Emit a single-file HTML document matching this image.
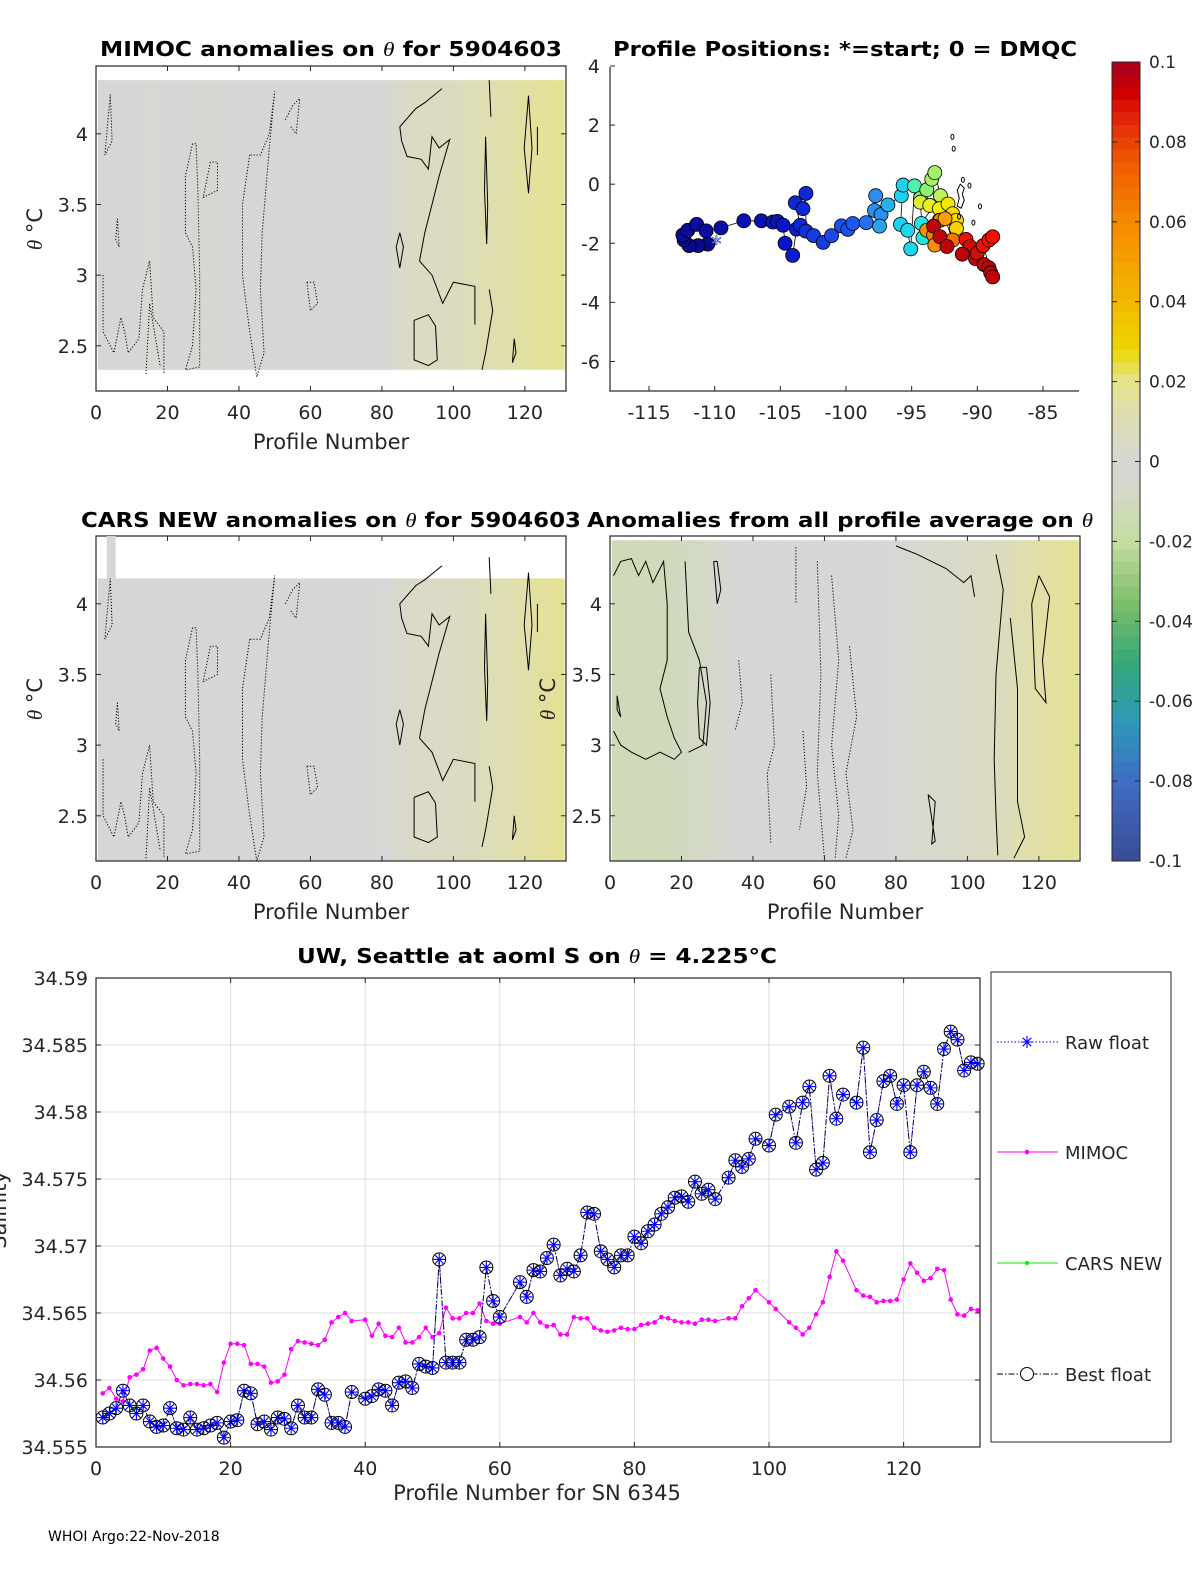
<!DOCTYPE html>
<html><head><meta charset="utf-8"><style>
html,body{margin:0;padding:0;background:#fff;}
svg text{font-family:"DejaVu Sans","Liberation Sans",sans-serif;fill:#262626;}
.ttl{font-weight:bold;fill:#000;}
</style></head><body>
<svg id="fig" width="1200" height="1575" viewBox="0 0 1200 1575" xmlns="http://www.w3.org/2000/svg">
<g id="gTL"></g>
<g id="gTR"></g>
<g id="gML"></g>
<g id="gMR"></g>
<g id="gCB"></g>
<g id="gB"></g>
<text x="48" y="1541" font-size="14" fill="#000" style="fill:#000">WHOI Argo:22-Nov-2018</text>
</svg>
<script>
// ---------- bottom chart data ----------
const profileNums = [1,2,3,4,5,6,7,8,9,10,11,12,13,14,15,16,17,18,19,20,21,22,23,24,25,26,27,28,29,30,31,32,33,34,35,36,37,38,40,41,42,43,44,45,46,47,48,49,50,51,52,53,54,55,56,57,58,59,60,63,64,65,66,67,68,69,70,71,72,73,74,75,76,77,78,79,80,81,82,83,84,85,86,87,88,89,90,91,92,94,95,96,97,98,100,101,103,104,105,106,107,108,109,110,111,113,114,115,116,117,118,119,120,121,122,123,124,125,126,127,128,129,130,131];
const bestFloat = [34.5572,34.5575,34.5579,34.5592,34.5581,34.5575,34.5581,34.5569,34.5565,34.5566,34.5579,34.5564,34.5563,34.5572,34.5563,34.5564,34.5566,34.5568,34.5557,34.5569,34.5570,34.5592,34.5590,34.5567,34.5569,34.5563,34.5572,34.5571,34.5564,34.5581,34.5572,34.5572,34.5593,34.5589,34.5568,34.5568,34.5565,34.5591,34.5586,34.5588,34.5593,34.5592,34.5581,34.5598,34.5599,34.5594,34.5612,34.5610,34.5609,34.5690,34.5613,34.5613,34.5613,34.5630,34.5630,34.5632,34.5684,34.5659,34.5647,34.5673,34.5662,34.5682,34.5681,34.5691,34.5701,34.5678,34.5683,34.5681,34.5693,34.5725,34.5724,34.5696,34.5690,34.5684,34.5693,34.5693,34.5707,34.5702,34.5711,34.5716,34.5724,34.5729,34.5736,34.5737,34.5733,34.5748,34.5739,34.5742,34.5735,34.5751,34.5764,34.5759,34.5765,34.5780,34.5775,34.5798,34.5804,34.5777,34.5807,34.5819,34.5757,34.5762,34.5827,34.5795,34.5813,34.5807,34.5848,34.5770,34.5794,34.5823,34.5827,34.5806,34.5820,34.5770,34.5820,34.5830,34.5818,34.5806,34.5847,34.5860,34.5854,34.5831,34.5837,34.5836];
const mimoc = [34.5590,34.5594,34.5586,34.5584,34.5602,34.5604,34.5608,34.5622,34.5624,34.5616,34.5610,34.5600,34.5596,34.5597,34.5597,34.5596,34.5597,34.5591,34.5613,34.5627,34.5627,34.5626,34.5612,34.5612,34.5610,34.5598,34.5599,34.5604,34.5623,34.5629,34.5628,34.5627,34.5626,34.5630,34.5643,34.5647,34.5650,34.5644,34.5645,34.5633,34.5642,34.5633,34.5632,34.5639,34.5628,34.5628,34.5632,34.5639,34.5632,34.5635,34.5654,34.5646,34.5646,34.5650,34.5650,34.5657,34.5644,34.5642,34.5642,34.5647,34.5643,34.5650,34.5643,34.5640,34.5641,34.5634,34.5634,34.5647,34.5646,34.5646,34.5639,34.5637,34.5636,34.5637,34.5639,34.5638,34.5638,34.5641,34.5642,34.5643,34.5647,34.5646,34.5644,34.5643,34.5643,34.5642,34.5645,34.5645,34.5644,34.5646,34.5646,34.5655,34.5661,34.5667,34.5658,34.5653,34.5643,34.5639,34.5634,34.5639,34.5649,34.5658,34.5677,34.5696,34.5689,34.5667,34.5663,34.5662,34.5658,34.5659,34.5659,34.5660,34.5675,34.5687,34.5680,34.5674,34.5676,34.5683,34.5682,34.5660,34.5649,34.5648,34.5653,34.5652];
const carsProfiles = [4,5,6];
const carsNew = [34.5581,34.5581,34.5578];
const xTicksB = [0,20,40,60,80,100,120];
const yTicksB = [34.555,34.56,34.565,34.57,34.575,34.58,34.585,34.59];
const yTickLabelsB = ["34.555","34.56","34.565","34.57","34.575","34.58","34.585","34.59"];

// ---------- heatmap column anomalies (every 5 profiles, 0..130) ----------
const anomMimoc = [0,0,0,0.001,0,0,-0.002,-0.002,0,0,0,0,0,0,0,0,0,0.004,0.006,0.006,0.007,0.009,0.011,0.013,0.015,0.017,0.019];
const anomCars  = [0,0,0,0,0,0,-0.001,0,0,0,0,0,0,0,0,0,0.001,0.003,0.005,0.005,0.006,0.007,0.009,0.011,0.013,0.016,0.018];
const anomAvg   = [-0.011,-0.012,-0.012,-0.011,-0.009,-0.007,-0.004,-0.002,0,0,0,0,0,0,0,0,0.001,0.002,0.003,0.004,0.005,0.006,0.008,0.011,0.014,0.016,0.018];
const thetaTicks = [2.5,3,3.5,4];
const profTicks = [0,20,40,60,80,100,120];

// ---------- contours (profile, theta) ----------
const solidTop = [
 [[96.8,4.32],[92,4.22],[89.5,4.18],[85,4.05],[85.5,3.95],[87,3.84],[91,3.82],[93,3.75],[94,3.98],[96,3.9],[99,3.96],[96,3.7],[94,3.5],[92,3.3],[90.5,3.1],[94,3.0],[97,2.8],[100,2.95],[106,2.92],[106,2.65]],
 [[109,3.98],[109.6,3.5],[109.3,3.22],[108.7,3.6],[109,3.98]],
 [[121,4.27],[122,3.9],[121,3.58],[119.8,3.9],[121,4.27]],
 [[89,2.68],[93,2.72],[95,2.64],[95.5,2.4],[93,2.36],[89,2.4],[89,2.68]],
 [[110,2.9],[111,2.75],[109,2.45],[108,2.33]],
 [[117,2.55],[116.5,2.38],[117.5,2.45],[117,2.55]],
 [[84,3.2],[85,3.05],[86,3.2],[85,3.3],[84,3.2]],
 [[110,4.38],[110.5,4.12]],[[123.5,4.05],[123.5,3.85]]
];
const dottedTop = [
 [[4,4.28],[3,4.0],[2.5,3.85],[4.5,3.95],[4,4.28]],
 [[27,3.93],[25,3.7],[25,3.3],[27,3.2],[28,2.9],[27,2.5],[25,2.33],[29,2.35],[29,3.0],[28.5,3.6],[28,3.93],[27,3.93]],
 [[43,3.85],[41,3.5],[41,3.0],[43,2.6],[45,2.28],[47,2.45],[46,2.9],[46.5,3.3],[48.5,3.9],[50,4.3],[48.5,4.0],[46,3.85],[43,3.85]],
 [[2,3.0],[2,2.6],[5,2.45],[7,2.7],[8,2.6],[9,2.45],[12,2.55],[13,2.9],[15,3.1],[16,2.7],[19,2.6],[19,2.3]],
 [[59,2.95],[60,2.75],[62,2.8],[61,2.95],[59,2.95]],
 [[53,4.1],[55,4.2],[57,4.25],[56,4.0],[54.5,4.05]],
 [[32,3.8],[30,3.55],[34,3.6],[34,3.8],[32,3.8]],
 [[14,2.3],[15,2.8],[17,2.5],[18,2.35]],
 [[6,3.4],[6.5,3.2],[5.5,3.25],[6,3.4]]
];
const solidAvg = [
 [[1,4.2],[3,4.3],[6,4.32],[8,4.2],[10,4.3],[12,4.15],[15,4.3],[16,4.0],[16,3.6],[14,3.4],[16,3.2],[18,3.05],[20,2.95],[18,2.9],[14,2.95],[10,2.9],[6,2.95],[3,3.0],[1,3.1]],
 [[21,4.3],[22,3.8],[25,3.6],[27,3.3],[26,3.0],[22,2.95]],
 [[25,3.55],[27,3.55],[28,3.3],[27,3.0],[25,3.05],[24.5,3.3],[25,3.55]],
 [[29,4.3],[30,4.0],[31,4.1],[30,4.3],[29,4.3]],
 [[80,4.41],[86,4.35],[94,4.25],[99,4.15],[101,4.2],[102,4.05]],
 [[108,4.35],[110,4.1],[108,3.5],[107.5,2.9],[108,2.5],[108.5,2.22]],
 [[112,3.9],[114,3.4],[114,2.6],[116,2.35],[113,2.2]],
 [[120,4.2],[123,4.05],[121,3.6],[122,3.3],[119,3.4],[118,4.0],[120,4.2]],
 [[89,2.65],[91,2.6],[90,2.3],[91,2.32],[89,2.65]],
 [[2,3.35],[3,3.2],[2,3.25],[2,3.35]]
];
const dottedAvg = [
 [[58,4.3],[59,3.5],[58,2.8],[60,2.2]],
 [[62,4.2],[64,3.6],[62,3.0],[64,2.5],[63,2.2]],
 [[45,3.5],[46,3.0],[44,2.8],[45,2.3]],
 [[36,3.6],[37,3.3],[35,3.1]],
 [[67,3.7],[69,3.2],[66,2.8],[68,2.4],[66,2.2]],
 [[52,4.4],[52,4.0]],[[54,3.1],[55,2.7],[53,2.4]]
];

// ---------- float track ----------
const lons = [-109.87,-110.53,-111.26,-111.95,-112.33,-112.42,-112.04,-111.37,-110.65,-109.52,-107.78,-106.44,-105.57,-105.22,-104.79,-104.64,-104.06,-103.77,-103.48,-103.86,-103.28,-103.05,-103.05,-102.47,-101.74,-101.10,-100.35,-99.86,-99.48,-98.46,-97.74,-97.83,-97.33,-97.45,-96.81,-95.79,-95.65,-95.85,-95.30,-95.07,-94.78,-94.34,-93.85,-93.47,-93.24,-92.81,-94.26,-94.14,-94.34,-93.62,-92.89,-92.23,-91.88,-91.59,-91.59,-92.89,-93.85,-93.33,-93.24,-92.83,-92.46,-91.88,-93.33,-92.84,-92.31,-90.86,-90.57,-91.15,-90.14,-90.00,-89.50,-89.12,-88.98,-88.83,-89.56,-89.12,-88.83];
const lats = [-2.03,-2.03,-2.08,-2.08,-1.89,-1.72,-1.56,-1.36,-1.58,-1.48,-1.24,-1.24,-1.28,-1.26,-1.39,-2.0,-2.41,-1.52,-1.39,-0.63,-0.83,-0.31,-1.59,-1.74,-1.97,-1.74,-1.41,-1.53,-1.33,-1.30,-0.39,-0.89,-1.03,-1.42,-0.70,-0.39,-0.03,-1.36,-1.56,-2.19,-0.06,-0.48,-0.19,0.17,0.39,-0.39,-1.33,-1.81,-0.61,-0.72,-0.83,-0.67,-1.0,-1.22,-1.5,-1.22,-1.56,-1.72,-2.06,-1.22,-1.17,-1.89,-1.42,-1.78,-2.11,-1.87,-2.11,-2.37,-2.52,-2.33,-2.72,-2.83,-3.0,-3.14,-2.08,-1.89,-1.78];
const trackVals = [-0.1,-0.1,-0.1,-0.1,-0.1,-0.097,-0.097,-0.095,-0.095,-0.093,-0.09,-0.09,-0.088,-0.088,-0.085,-0.085,-0.083,-0.083,-0.08,-0.08,-0.08,-0.08,-0.078,-0.075,-0.075,-0.072,-0.07,-0.07,-0.068,-0.062,-0.055,-0.055,-0.055,-0.052,-0.05,-0.045,-0.045,-0.045,-0.042,-0.042,-0.025,-0.02,-0.018,-0.015,-0.015,-0.012,-0.035,-0.035,0.0,0.01,0.02,0.025,0.03,0.03,0.035,0.05,0.06,0.065,0.06,0.06,0.055,0.07,0.095,0.095,0.095,0.085,0.09,0.095,0.095,0.09,0.095,0.095,0.095,0.095,0.085,0.085,0.085];
const lonTicks = [-115,-110,-105,-100,-95,-90,-85];
const latTicks = [-6,-4,-2,0,2,4];
const cbTicks = [-0.1,-0.08,-0.06,-0.04,-0.02,0,0.02,0.04,0.06,0.08,0.1];
const cbLabels = ["-0.1","-0.08","-0.06","-0.04","-0.02","0","0.02","0.04","0.06","0.08","0.1"];

const NS="http://www.w3.org/2000/svg";
function mk(parent, tag, attrs, txt){const e=document.createElementNS(NS,tag);for(const k in attrs)e.setAttribute(k,attrs[k]);if(txt!==undefined)e.textContent=txt;parent.appendChild(e);return e;}
function lin(d0,d1,p0,p1){return v=>p0+(v-d0)/(d1-d0)*(p1-p0);}
function hex(c){return [parseInt(c.substr(1,2),16),parseInt(c.substr(3,2),16),parseInt(c.substr(5,2),16)];}
function interp(stops,v){ if(v<=stops[0][0])return stops[0][1]; for(let i=1;i<stops.length;i++){ if(v<=stops[i][0]){const t=(v-stops[i-1][0])/(stops[i][0]-stops[i-1][0]);const a=hex(stops[i-1][1]),b=hex(stops[i][1]);return 'rgb('+a.map((x,j)=>Math.round(x+(b[j]-x)*t)).join(',')+')';}} return stops[stops.length-1][1];}
const anomStops=[[-0.1,'#3a4c94'],[-0.08,'#3f6cc4'],[-0.065,'#2e99b8'],[-0.05,'#36a777'],[-0.035,'#7fc06a'],[-0.02,'#c4dda2'],[-0.005,'#d6d8cc'],[0,'#d6d6d6'],[0.008,'#dcdcbc'],[0.02,'#e6e28e'],[0.028,'#ebd800'],[0.04,'#f2b800'],[0.06,'#f68a00'],[0.075,'#f05a00'],[0.085,'#e42a0a'],[0.092,'#d10000'],[0.1,'#a6001e']];
const jetStops=[[-0.1,'#0a0a8c'],[-0.085,'#0a14c8'],[-0.07,'#1a50f0'],[-0.055,'#2a90f0'],[-0.045,'#20d0f0'],[-0.03,'#20f0e0'],[-0.02,'#80f080'],[-0.01,'#c8f050'],[0.02,'#f8f000'],[0.04,'#f8c800'],[0.06,'#f89000'],[0.075,'#f86000'],[0.085,'#f01000'],[0.1,'#a00010']];
const TH='<tspan font-family="Liberation Serif,serif" font-style="italic" font-weight="normal">θ</tspan>';

function frame(g,x0,y0,x1,y1,name){
  const r=mk(g,'rect',{x:x0,y:y0,width:x1-x0,height:y1-y0,fill:'none',stroke:'#262626','stroke-width':1.2});
  
  
}
function xTicks(g,sx,ticks,labels,y0,y1,fs){
  ticks.forEach((t,i)=>{const x=sx(t);
    mk(g,'line',{x1:x,y1:y1,x2:x,y2:y1-5,stroke:'#262626'});mk(g,'line',{x1:x,y1:y0,x2:x,y2:y0+5,stroke:'#262626'});
    const tx=mk(g,'text',{x:x,y:y1+28,'text-anchor':'middle','font-size':fs},labels?labels[i]:String(t));
    
    
  });
}
function yTicks(g,sy,ticks,labels,x0,x1,fs,lx){
  ticks.forEach((t,i)=>{const y=sy(t);
    mk(g,'line',{x1:x0,y1:y,x2:x0+5,y2:y,stroke:'#262626'});mk(g,'line',{x1:x1,y1:y,x2:x1-5,y2:y,stroke:'#262626'});
    const tx=mk(g,'text',{x:lx,y:y+7,'text-anchor':'end','font-size':fs},labels?labels[i]:String(t));
    
    
  });
}
function title(g,x,y,txt,len,name){
  const t=mk(g,'text',{x:x,y:y,'text-anchor':'middle','font-size':20,'class':'ttl',textLength:len,lengthAdjust:'spacingAndGlyphs'});
  t.innerHTML=txt.replace('θ',TH);
  
  
  return t;
}
function ylab(g,x,y,name){
  const yl=mk(g,'text',{x:0,y:0,'text-anchor':'middle','font-size':21,transform:'translate('+x+','+y+') rotate(-90)'});
  yl.innerHTML=TH+' °C';
  
  
}
function contourSet(g,sets,sx,sy,dashed){
  sets.forEach(pts=>{
    const p=mk(g,'polyline',{points:pts.map(q=>sx(q[0]).toFixed(1)+','+sy(q[1]).toFixed(1)).join(' '),fill:'none',stroke:'#000','stroke-width':1,'stroke-dasharray':dashed?'1.2,1.8':'none'});
    
    
  });
}
function heatPanel(g,x0,y0,x1,y1,anom,thTop,thBot,solid,dotted,name){
  const sx=lin(0,131.5,x0,x1), sy=lin(2.18,4.48,y1,y0);
  anom.forEach((a,i)=>{
    const p0=Math.max(0.5,i*5-2.5), p1=Math.min(131,i*5+2.5);
    const r=mk(g,'rect',{x:sx(p0),y:sy(thTop),width:sx(p1)-sx(p0)+0.5,height:sy(thBot)-sy(thTop),fill:interp(anomStops,a)});
    
    
  });
  contourSet(g,solid,sx,sy,false);
  contourSet(g,dotted,sx,sy,true);
  frame(g,x0,y0,x1,y1,name+'-axes');
  xTicks(g,sx,profTicks,null,y0,y1,19);
  return {sx,sy};
}

// ---- Top-left
(function(){const g=document.getElementById('gTL');
  const a=heatPanel(g,96,66,566,391,anomMimoc,4.38,2.33,solidTop,dottedTop,'mimoc');
  yTicks(g,a.sy,thetaTicks,null,96,566,19,88);
  title(g,331,56,'MIMOC anomalies on θ  for 5904603',462,'mimoc-title');
  const xl=mk(g,'text',{x:331,y:449,'text-anchor':'middle','font-size':21},'Profile Number');
  ylab(g,42,229,'y-axis-title');
})();
// ---- Middle-left
(function(){const g=document.getElementById('gML');
  const a=heatPanel(g,96,536,566,861,anomCars,4.18,2.18,solidTop.map(p=>p.map(q=>[q[0],q[1]-0.05])),dottedTop.map(p=>p.map(q=>[q[0],q[1]-0.1])),'cars');
  yTicks(g,a.sy,thetaTicks,null,96,566,19,88);
  mk(g,'rect',{x:a.sx(3),y:536,width:a.sx(5.5)-a.sx(3),height:a.sy(4.18)-536,fill:'#d6d6d6'});
  title(g,331,527,'CARS NEW anomalies on θ for 5904603',500,'cars-title');
  const xl=mk(g,'text',{x:331,y:919,'text-anchor':'middle','font-size':21},'Profile Number');
  ylab(g,42,699,'y-axis-title');
})();
// ---- Middle-right
(function(){const g=document.getElementById('gMR');
  const a=heatPanel(g,610,536,1080,861,anomAvg,4.45,2.18,solidAvg,dottedAvg,'average');
  yTicks(g,a.sy,thetaTicks,null,610,1080,19,602);
  title(g,840,527,'Anomalies from all profile average on θ',506,'average-title');
  const xl=mk(g,'text',{x:845,y:919,'text-anchor':'middle','font-size':21},'Profile Number');
  ylab(g,555,699,'y-axis-title');
})();
// ---- Top-right scatter
(function(){const g=document.getElementById('gTR');
  const sx=lin(-115,-85,649,1043), sy=lin(-7,4,391,66);
  const line=mk(g,'polyline',{points:lons.map((v,i)=>sx(v).toFixed(1)+','+sy(lats[i]).toFixed(1)).join(' '),fill:'none',stroke:'#000','stroke-width':0.8});
  
  lons.forEach((v,i)=>{ if(i===0)return;
    const c=mk(g,'circle',{cx:sx(v),cy:sy(lats[i]),r:7,fill:interp(jetStops,trackVals[i]),stroke:'#000','stroke-width':0.8});
    
  });
  const s=mk(g,'text',{x:sx(lons[0]),y:sy(lats[0])+7,'text-anchor':'middle','font-size':20,style:'fill:#fff;stroke:#2030c0;stroke-width:0.6'},'*');
  
  [[-91.9,1.6],[-91.8,1.2],[-91.1,0.15],[-90.6,-0.05],[-89.8,-0.75],[-91.4,-1.1],[-90.3,-1.3]].forEach(q=>{
    const e=mk(g,'ellipse',{cx:sx(q[0]),cy:sy(q[1]),rx:1.5,ry:2.5,fill:'none',stroke:'#000','stroke-width':1});
    });
  const isl=mk(g,'path',{d:`M${sx(-91.3)},${sy(0.0)} l-3,6 l2,8 l-2,8 l4,2 l3,-8 l-2,-6 l2,-6 z`,fill:'none',stroke:'#000','stroke-width':1});
  
  frame(g,610,66,1080,391,'positions-axes');
  mk(g,'rect',{x:1079,y:60,width:4,height:333,fill:'#fff'});mk(g,'rect',{x:608,y:63,width:474,height:4,fill:'#fff'});
  lonTicks.forEach(t=>{const x=sx(t);mk(g,'line',{x1:x,y1:391,x2:x,y2:386,stroke:'#262626'});
    const tx=mk(g,'text',{x:x,y:419,'text-anchor':'middle','font-size':19},String(t));});
  latTicks.forEach(t=>{const y=sy(t);mk(g,'line',{x1:610,y1:y,x2:615,y2:y,stroke:'#262626'});
    const tx=mk(g,'text',{x:600,y:y+7,'text-anchor':'end','font-size':19},String(t));});
  title(g,845,56,'Profile Positions: *=start; 0 = DMQC',464,'positions-title');
})();
// ---- Colorbar
(function(){const g=document.getElementById('gCB');
  const sy=lin(-0.1,0.1,861,62); const n=64;
  for(let i=0;i<n;i++){const v0=-0.1+i*0.2/n, v1=v0+0.2/n;
    const r=mk(g,'rect',{x:1112,y:sy(v1),width:28,height:sy(v0)-sy(v1)+0.4,fill:interp(anomStops,(v0+v1)/2)});
    }
  mk(g,'rect',{x:1112,y:62,width:28,height:799,fill:'none',stroke:'#262626','stroke-width':1});
  cbTicks.forEach((t,i)=>{const y=sy(t);mk(g,'line',{x1:1140,y1:y,x2:1135,y2:y,stroke:'#262626'});mk(g,'line',{x1:1112,y1:y,x2:1117,y2:y,stroke:'#262626'});
    const tx=mk(g,'text',{x:1149,y:y+6,'font-size':17},cbLabels[i]);});
})();
// ---- Bottom time series
(function(){const g=document.getElementById('gB');
  const x0=96,x1=980,y0=978,y1=1447;
  const sx=lin(0,131.35,x0,x1), sy=lin(34.555,34.59,y1,y0);
  mk(g,'rect',{x:x0,y:y0,width:x1-x0,height:y1-y0,fill:'#fff'});
  xTicksB.forEach(t=>{const l=mk(g,'line',{x1:sx(t),y1:y0,x2:sx(t),y2:y1,stroke:'#dcdcdc'});});
  yTicksB.forEach(t=>{const l=mk(g,'line',{x1:x0,y1:sy(t),x2:x1,y2:sy(t),stroke:'#dcdcdc'});});
  const mp=mk(g,'polyline',{points:profileNums.map((p,i)=>sx(p).toFixed(1)+','+sy(mimoc[i]).toFixed(1)).join(' '),fill:'none',stroke:'#ff00ff','stroke-width':1});
  
  profileNums.forEach((p,i)=>{const c=mk(g,'circle',{cx:sx(p),cy:sy(mimoc[i]),r:2.3,fill:'#ff00ff'});});
  const cp=mk(g,'polyline',{points:carsProfiles.map((p,i)=>sx(p)+','+sy(carsNew[i])).join(' '),fill:'none',stroke:'#00ee00','stroke-width':1.2});
  
  const bp=mk(g,'polyline',{points:profileNums.map((p,i)=>sx(p).toFixed(1)+','+sy(bestFloat[i]).toFixed(1)).join(' '),fill:'none',stroke:'#000','stroke-width':1,'stroke-dasharray':'6,2,1.5,2'});
  
  const rp=mk(g,'polyline',{points:profileNums.map((p,i)=>sx(p).toFixed(1)+','+sy(bestFloat[i]).toFixed(1)).join(' '),fill:'none',stroke:'#0000ff','stroke-width':0.8,'stroke-dasharray':'1.5,2'});
  
  profileNums.forEach((p,i)=>{const cx=sx(p),cy=sy(bestFloat[i]);
    const c=mk(g,'circle',{cx:cx,cy:cy,r:6.5,fill:'none',stroke:'#000','stroke-width':1});
    
    const st=mk(g,'path',{d:`M${cx-6},${cy}h12M${cx},${cy-6}v12M${cx-4.2},${cy-4.2}l8.4,8.4M${cx-4.2},${cy+4.2}l8.4,-8.4`,stroke:'#0000ff','stroke-width':1.1});
    
  });
  frame(g,x0,y0,x1,y1,'salinity-axes');
  xTicks(g,sx,xTicksB,null,y0,y1,19);
  yTicks(g,sy,yTicksB,yTickLabelsB,x0,x1,19,88);
  title(g,537,963,'UW, Seattle at aoml S on θ = 4.225°C',480,'salinity-title');
  const xl=mk(g,'text',{x:537,y:1500,'text-anchor':'middle','font-size':21},'Profile Number for SN 6345');
  const yl=mk(g,'text',{x:0,y:0,'text-anchor':'middle','font-size':21,transform:'translate(6,1210) rotate(-90)'},'Salinity');
  const lg=mk(g,'g',{});
  mk(lg,'rect',{x:991,y:972,width:180,height:470,fill:'#fff',stroke:'#262626','stroke-width':1});
  const ents=[['Raw float',1042,'raw'],['MIMOC',1152,'mimoc'],['CARS NEW',1263,'cars'],['Best float',1374,'best']];
  ents.forEach(e=>{const y=e[1];
    const gg=mk(lg,'g',{});
    if(e[2]==='raw'){mk(gg,'line',{x1:997,y1:y,x2:1058,y2:y,stroke:'#0000ff','stroke-dasharray':'1.5,2'});mk(gg,'path',{d:`M1021,${y}h12M1027,${y-6}v12M1022.8,${y-4.2}l8.4,8.4M1022.8,${y+4.2}l8.4,-8.4`,stroke:'#0000ff','stroke-width':1.1});}
    if(e[2]==='mimoc'){mk(gg,'line',{x1:997,y1:y,x2:1058,y2:y,stroke:'#ff00ff'});mk(gg,'circle',{cx:1027,cy:y,r:2.3,fill:'#ff00ff'});}
    if(e[2]==='cars'){mk(gg,'line',{x1:997,y1:y,x2:1058,y2:y,stroke:'#00ee00'});mk(gg,'circle',{cx:1027,cy:y,r:2,fill:'#00ee00'});}
    if(e[2]==='best'){mk(gg,'line',{x1:997,y1:y,x2:1058,y2:y,stroke:'#000','stroke-dasharray':'6,2,1.5,2'});mk(gg,'circle',{cx:1027,cy:y,r:6.5,fill:'#fff',stroke:'#000'});}
    mk(gg,'text',{x:1065,y:y+7,'font-size':18},e[0]);
  });
})();
</script>
</body></html>
